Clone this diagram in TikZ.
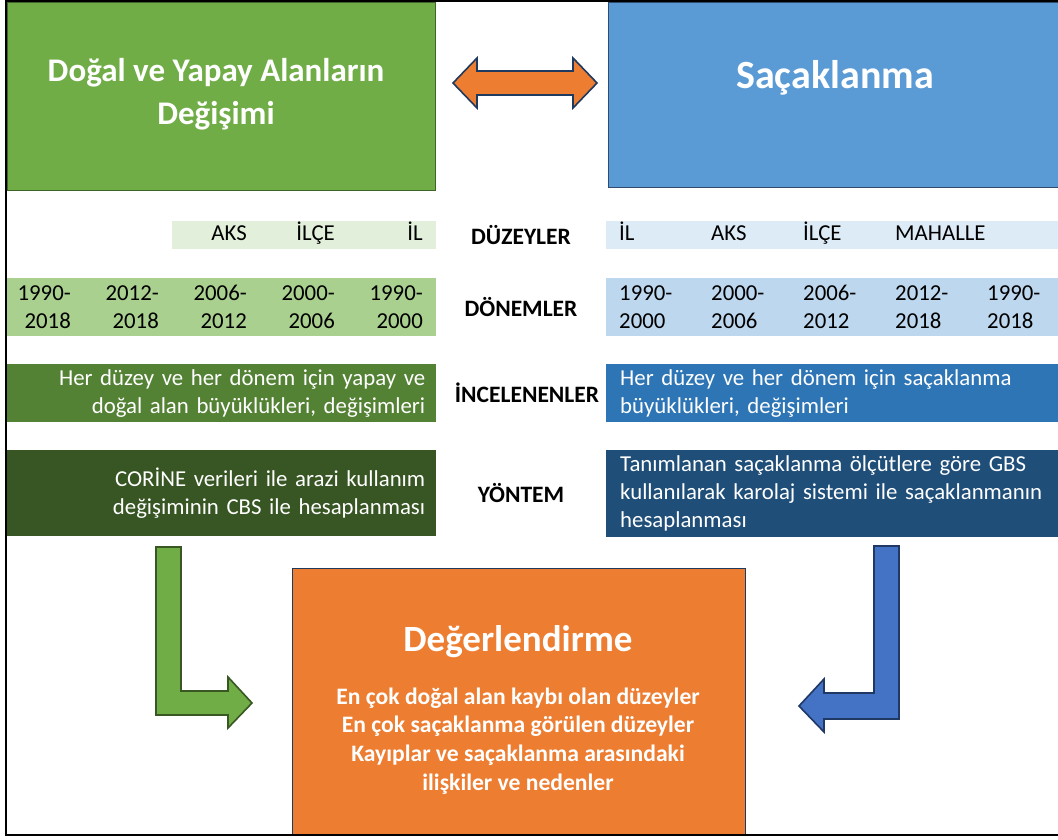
\documentclass[tikz,border=0pt]{standalone}
\usepackage{fontspec}
\setmainfont{Carlito}
\definecolor{natgreen}{HTML}{70AD47}
\definecolor{natgreenline}{HTML}{3F6428}
\definecolor{sprawlblue}{HTML}{5B9BD5}
\definecolor{sprawlline}{HTML}{2F4B6E}
\definecolor{evalorange}{HTML}{ED7D31}
\definecolor{navyline}{HTML}{1F3A5F}
\definecolor{lvlgreen}{HTML}{E2EFDA}
\definecolor{pergreen}{HTML}{A9D08E}
\definecolor{invgreen}{HTML}{548235}
\definecolor{metgreen}{HTML}{375623}
\definecolor{lvlblue}{HTML}{DDEBF7}
\definecolor{perblue}{HTML}{BDD7EE}
\definecolor{invblue}{HTML}{2E75B6}
\definecolor{metblue}{HTML}{1F4E79}
\definecolor{arrowblue}{HTML}{4472C4}
\definecolor{arrowblueline}{HTML}{1F3864}
\definecolor{arrowgreenline}{HTML}{385723}
\tikzset{
  topbox/.style={anchor=north west, line width=1.2pt},
  titletext/.style={text=white, align=center, font=\bfseries\fontsize{33}{43}\selectfont},
  bandbox/.style={anchor=north west, inner ysep=0pt},
  bandtext/.style={font=\fontsize{22.8}{28}\selectfont},
  lefttext/.style={bandbox, bandtext, inner xsep=11pt, text width=407pt, align=right, text=white},
  righttext/.style={bandbox, bandtext, inner xsep=14pt, text width=450pt, align=left, text=white},
  cellwest/.style={bandtext, inner sep=0pt, anchor=west, align=left},
  celleast/.style={bandtext, inner sep=0pt, anchor=east, align=right},
  rowlabel/.style={font=\bfseries\fontsize{23.5}{28}\selectfont},
  blockarrow/.style={line width=1.6pt, line join=miter},
}
\begin{document}
\begin{tikzpicture}[x=1pt, y=-1pt]
  \clip (0,0) rectangle (1058,839);
  \fill[white] (0,0) rectangle (1058,839);

  % title boxes
  \node[topbox, fill=natgreen, draw=natgreenline, minimum width=428pt, minimum height=188pt] (natbox) at (7,2) {};
  \node[titletext] (nattitle) at (216,94) {Doğal ve Yapay Alanların\\Değişimi};
  \node[topbox, fill=sprawlblue, draw=sprawlline, minimum width=456pt, minimum height=185pt] (sprawlbox) at (608,2) {};
  \node[titletext, font=\bfseries\fontsize{40}{44}\selectfont] (sprawltitle) at (835,78) {Saçaklanma};
  \draw[blockarrow, fill=evalorange, draw=navyline]
    (453,83) -- (477,58) -- (477,71) -- (573,71) -- (573,58) -- (597,83)
    -- (573,108) -- (573,95) -- (477,95) -- (477,108) -- cycle;

  % row labels
  \node[rowlabel] (lvl) at (521,235) {DÜZEYLER};
  \node[rowlabel] (per) at (521,307) {DÖNEMLER};
  \node[rowlabel] (inv) at (527,393) {İNCELENENLER};
  \node[rowlabel] (met) at (521,493) {YÖNTEM};

  % levels
  \fill[lvlgreen] (172,221) rectangle (436,249);
  \fill[lvlblue] (606,221) rectangle (1058,249);
  \foreach \xr/\lab [count=\i] in {247/AKS, 335/İLÇE, 423/İL}
    \node[celleast, text height=16pt, text depth=5pt] (lvlL\i) at (\xr,235) {\lab};
  \foreach \xl/\lab [count=\i] in {619/İL, 711/AKS, 803/İLÇE, 895/MAHALLE}
    \node[cellwest, text height=16pt, text depth=5pt] (lvlR\i) at (\xl,235) {\lab};

  % periods
  \fill[pergreen] (7,278) rectangle (436,336);
  \fill[perblue] (606,278) rectangle (1058,336);
  \foreach \xr/\ya/\yb [count=\i] in {71/1990/2018, 159/2012/2018, 247/2006/2012, 335/2000/2006, 423/1990/2000}
    \node[celleast] (perL\i) at (\xr,307) {\ya-\\\yb};
  \foreach \xl/\ya/\yb [count=\i] in {619/1990/2000, 711/2000/2006, 803/2006/2012, 895/2012/2018, 987/1990/2018}
    \node[cellwest] (perR\i) at (\xl,307) {\ya-\\\yb};

  % examined items
  \node[lefttext, fill=invgreen, minimum height=58pt] (invL) at (7,364)
    {Her düzey ve her dönem için yapay ve\\doğal alan büyüklükleri, değişimleri};
  \node[righttext, fill=invblue, minimum height=58pt] (invR) at (606,364)
    {Her düzey ve her dönem için saçaklanma\\büyüklükleri, değişimleri};

  % method
  \node[lefttext, fill=metgreen, minimum height=86pt] (metL) at (7,450)
    {CORİNE verileri ile arazi kullanım\\değişiminin CBS ile hesaplanması};
  \node[righttext, fill=metblue, minimum height=87pt] (metR) at (606,450)
    {Tanımlanan saçaklanma ölçütlere göre GBS\\kullanılarak karolaj sistemi ile saçaklanmanın\\hesaplanması};

  % evaluation
  \node[topbox, fill=evalorange, draw=navyline, minimum width=453pt, minimum height=267pt] (evalbox) at (292,568) {};
  \node[text=white, font=\bfseries\fontsize{37}{40}\selectfont] (evaltitle) at (518,642) {Değerlendirme};
  \node[text=white, align=center, font=\bfseries\fontsize{23.6}{28.7}\selectfont] (evallist) at (518,741)
    {En çok doğal alan kaybı olan düzeyler\\En çok saçaklanma görülen düzeyler\\Kayıplar ve saçaklanma arasındaki\\ilişkiler ve nedenler};

  % bent arrows
  \draw[blockarrow, fill=natgreen, draw=arrowgreenline]
    (156,547) -- (181,547) -- (181,691) -- (228,691) -- (228,677) -- (252,703)
    -- (228,728) -- (228,715) -- (156,715) -- cycle;
  \draw[blockarrow, fill=arrowblue, draw=arrowblueline]
    (874,546) -- (899,546) -- (899,719) -- (824,719) -- (824,732) -- (799,706)
    -- (824,679) -- (824,693) -- (874,693) -- cycle;

  % frame
  \draw[line width=2pt] (6,1) rectangle (1070,835);
\end{tikzpicture}
\end{document}
